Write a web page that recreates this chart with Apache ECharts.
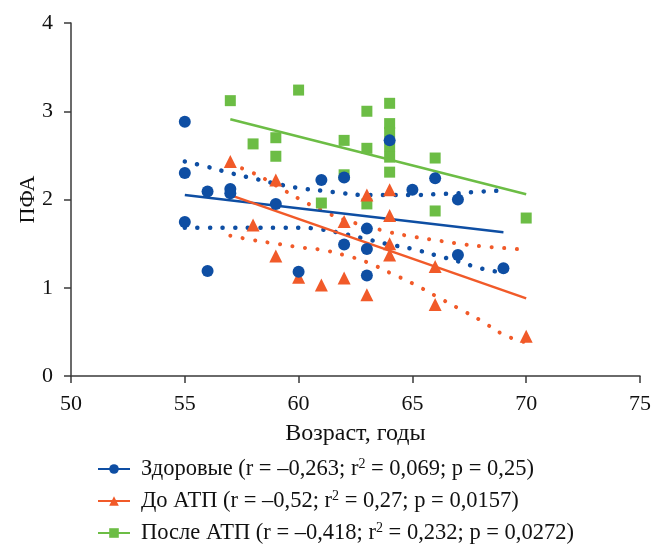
<!DOCTYPE html>
<html><head><meta charset="utf-8">
<script src="https://cdn.jsdelivr.net/npm/echarts@6/dist/echarts.min.js"></script>
<style>html,body{margin:0;padding:0;background:#fff}#c{width:654px;height:549px}</style>
</head><body><div id="c"></div>
<script>
// Scatter data [age, PFA]
const healthy = [[55,2.88],[55,2.30],[55,1.745],[56,2.09],[56,1.19],[57,2.12],[57,2.07],[59,1.95],[60,1.18],[61,2.22],[62,2.25],[62,1.49],[63,1.67],[63,1.44],[63,1.14],[64,2.67],[65,2.11],[66,2.24],[67,2.0],[67,1.37],[69,1.22]];
const beforeATP = [[57,2.43],[58,1.71],[59,2.22],[59,1.36],[60,1.12],[61,1.03],[62,1.75],[62,1.11],[63,2.05],[63,0.92],[64,2.11],[64,1.82],[64,1.50],[64,1.37],[66,1.24],[66,0.81],[70,0.45]];
const afterATP = [[57,3.12],[58,2.63],[59,2.70],[59,2.49],[60,3.24],[61,1.96],[62,2.67],[62,2.28],[63,3.00],[63,2.58],[63,1.95],[64,3.09],[64,2.86],[64,2.76],[64,2.60],[64,2.48],[64,2.31],[66,2.47],[66,1.87],[70,1.79]];
// Regression lines
const healthyFit = [[55,2.05],[69,1.63]];
const beforeFit = [[57,2.05],[70,0.88]];
const afterFit = [[57,2.91],[70,2.06]];
// Confidence bands
const healthyUpper = [[55,2.43],[56,2.37],[57,2.30],[58,2.24],[59,2.18],[60,2.13],[61,2.10],[62,2.07],[63,2.05],[64,2.05],[65,2.05],[66,2.06],[67,2.07],[68,2.09],[69,2.10]];
const healthyLower = [[55,1.68],[56,1.68],[57,1.68],[58,1.68],[59,1.68],[60,1.68],[61,1.66],[62,1.61],[63,1.55],[64,1.49],[65,1.44],[66,1.37],[67,1.30],[68,1.22],[69,1.17]];
const beforeUpper = [[57,2.40],[58,2.30],[59,2.16],[60,2.01],[61,1.88],[62,1.77],[63,1.70],[64,1.63],[65,1.58],[66,1.54],[67,1.50],[68,1.47],[69,1.45],[70,1.43]];
const beforeLower = [[57,1.59],[58,1.54],[59,1.50],[60,1.46],[61,1.43],[62,1.37],[63,1.29],[64,1.17],[65,1.05],[66,0.91],[67,0.77],[68,0.63],[69,0.47],[70,0.38]];
// Labels
const seriesNames = ['Здоровые', 'До АТП', 'После АТП'];
const statR = ['–0,263', '–0,52', '–0,418'];
const statR2 = ['0,069', '0,27', '0,232'];
const statP = ['0,25', '0,0157', '0,0272'];
const xTicks = {min: 50, max: 75, step: 5};
const yTicks = {min: 0, max: 4, step: 1};
const xTitle = 'Возраст, годы';
const yTitle = 'ПФА';

const BLUE = '#0e4ea3', RED = '#f15a29', GREEN = '#6cbd45';
const FONT = 'Liberation Serif';

function dotted(name, data, color, w) {
  return {name: name, type: 'line', data: data, smooth: true, showSymbol: false, symbol: 'none', silent: true,
    lineStyle: {color: color, width: w, type: [0.1, 12.5], cap: 'round'}, z: 2};
}
function fit(name, data, color, sym) {
  return {name: name, type: 'line', data: data, symbol: sym, symbolSize: 8, showSymbol: false, silent: true,
    itemStyle: {color: color}, lineStyle: {color: color, width: 2.5}, z: 3};
}
function pts(data, color, sym, size) {
  return {name: '_' + sym, type: 'scatter', data: data, symbol: sym, symbolSize: size,
    itemStyle: {color: color, opacity: 1}, z: 4};
}

const legendNames = seriesNames.map((n, i) => n + ' (r = ' + statR[i] + '; r2 = ' + statR2[i] + '; p = ' + statP[i] + ')');

const option = {
  animation: false,
  grid: {left: 71, right: 13, top: 23, bottom: 173, containLabel: false},
  xAxis: {type: 'value', min: xTicks.min, max: xTicks.max, interval: xTicks.step,
    name: xTitle, nameLocation: 'middle', nameGap: 46, nameMoveOverlap: false,
    nameTextStyle: {fontFamily: FONT, fontSize: 24, color: '#111'},
    axisLine: {show: true, lineStyle: {color: '#3a3a3a', width: 1.5}},
    axisTick: {show: true, length: 7, lineStyle: {color: '#3a3a3a', width: 1.5}},
    axisLabel: {fontFamily: FONT, fontSize: 22, color: '#111', margin: 17},
    splitLine: {show: false}},
  yAxis: {type: 'value', min: yTicks.min, max: yTicks.max, interval: yTicks.step,
    name: yTitle, nameLocation: 'middle', nameGap: 32, nameRotate: 90, nameMoveOverlap: false,
    nameTextStyle: {fontFamily: FONT, fontSize: 22, color: '#111'},
    axisLine: {show: true, lineStyle: {color: '#3a3a3a', width: 1.5}},
    axisTick: {show: true, length: 7, lineStyle: {color: '#3a3a3a', width: 1.5}},
    axisLabel: {fontFamily: FONT, fontSize: 22, color: '#111', margin: 18},
    splitLine: {show: false}},
  legend: {orient: 'vertical', left: 97, top: 457, padding: 0, itemWidth: 32, itemHeight: 12, itemGap: 8,
    data: legendNames,
    formatter: function (name) {
      const i = legendNames.indexOf(name);
      return '{t|' + seriesNames[i] + ' (r = ' + statR[i] + '; r}{s|2}{u| = ' + statR2[i] + '; p = ' + statP[i] + ')}';
    },
    textStyle: {fontFamily: FONT, fontSize: 22.5, color: '#111',
      rich: {t: {fontFamily: FONT, fontSize: 22.5, color: '#111', lineHeight: 24, padding: [0, 0, 0, 6]},
             u: {fontFamily: FONT, fontSize: 22.5, color: '#111', lineHeight: 24},
             s: {fontFamily: FONT, fontSize: 14, color: '#111', verticalAlign: 'top', lineHeight: 14, padding: [0, 0, 10, 0]}}}},
  series: [
    dotted('hu', healthyUpper, BLUE, 4.5),
    dotted('hl', healthyLower, BLUE, 4.5),
    dotted('bu', beforeUpper, RED, 4),
    dotted('bl', beforeLower, RED, 4),
    fit(legendNames[0], healthyFit, BLUE, 'circle'),
    fit(legendNames[1], beforeFit, RED, 'triangle'),
    fit(legendNames[2], afterFit, GREEN, 'rect'),
    pts(afterATP, GREEN, 'rect', 11),
    pts(beforeATP, RED, 'triangle', 13),
    pts(healthy, BLUE, 'circle', 12)
  ]
};
const chart = echarts.init(document.getElementById('c'), null, {renderer: 'canvas'});
chart.setOption(option);
</script></body></html>
